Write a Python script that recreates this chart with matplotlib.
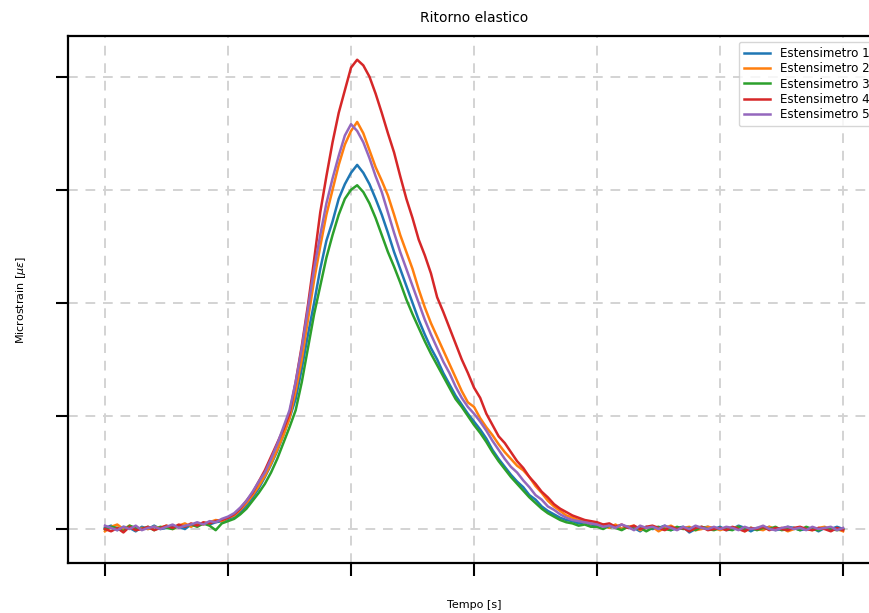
import matplotlib
matplotlib.use("Agg")
import matplotlib.pyplot as plt
import numpy as np

# time axis, 0 - 6 s, sampled every 0.05 s
tempo = np.linspace(0, 6, 121)

est_1 = [
    0.01, 0.03, -0.01, 0.02, 0.01, -0.02, 0.02, 0.00, 0.03, 0.00, 0.01, 0.03, 0.02, 0.00, 0.04, 0.03, 0.05, 0.04, 0.06, 0.07,
    0.09, 0.11, 0.15, 0.21, 0.28, 0.36, 0.46, 0.57, 0.69, 0.83, 0.98, 1.15, 1.42, 1.72, 2.00, 2.30, 2.55, 2.72, 2.92, 3.05,
    3.15, 3.22, 3.15, 3.05, 2.92, 2.78, 2.62, 2.45, 2.30, 2.15, 2.00, 1.85, 1.72, 1.60, 1.50, 1.38, 1.28, 1.18, 1.10, 1.02,
    0.95, 0.88, 0.80, 0.70, 0.62, 0.55, 0.48, 0.42, 0.37, 0.30, 0.26, 0.20, 0.16, 0.13, 0.10, 0.08, 0.07, 0.05, 0.06, 0.04,
    0.03, 0.04, 0.01, 0.03, 0.00, 0.02, 0.01, -0.02, 0.02, 0.00, 0.01, 0.03, -0.01, 0.01, 0.02, -0.03, 0.00, 0.01, 0.02, 0.00,
    0.02, -0.01, 0.00, 0.03, 0.01, -0.02, 0.01, 0.00, 0.02, -0.01, 0.00, 0.02, 0.01, -0.01, 0.00, 0.01, -0.02, 0.01, 0.00, 0.02, 0.00,
]
est_2 = [
    -0.02, 0.02, 0.04, 0.00, 0.03, -0.01, 0.01, 0.00, 0.02, 0.01, 0.03, 0.00, 0.03, 0.05, 0.02, 0.05, 0.04, 0.06, 0.08, 0.07,
    0.10, 0.12, 0.17, 0.23, 0.30, 0.38, 0.47, 0.58, 0.70, 0.83, 0.98, 1.22, 1.50, 1.85, 2.20, 2.50, 2.78, 3.00, 3.22, 3.40,
    3.52, 3.60, 3.50, 3.35, 3.20, 3.08, 2.95, 2.78, 2.60, 2.45, 2.30, 2.12, 1.96, 1.82, 1.70, 1.58, 1.46, 1.34, 1.22, 1.12,
    1.08, 0.98, 0.90, 0.83, 0.75, 0.68, 0.62, 0.56, 0.52, 0.46, 0.38, 0.32, 0.25, 0.20, 0.16, 0.12, 0.10, 0.08, 0.07, 0.05,
    0.05, 0.03, 0.01, 0.04, 0.00, 0.02, 0.03, -0.01, 0.01, 0.02, -0.02, 0.01, 0.03, 0.00, 0.01, 0.02, -0.01, 0.00, 0.02, 0.01,
    -0.01, 0.01, 0.00, 0.02, -0.02, 0.01, 0.00, -0.01, 0.02, 0.00, 0.01, -0.02, 0.00, 0.01, 0.00, -0.01, 0.01, 0.02, -0.01, 0.00, -0.02,
]
est_3 = [
    0.00, 0.02, 0.01, -0.02, 0.03, 0.01, 0.00, 0.02, -0.01, 0.02, 0.01, 0.00, 0.03, 0.02, 0.04, 0.02, 0.05, 0.03, -0.01, 0.05,
    0.07, 0.09, 0.13, 0.18, 0.25, 0.32, 0.40, 0.50, 0.62, 0.76, 0.90, 1.05, 1.30, 1.60, 1.90, 2.15, 2.40, 2.60, 2.78, 2.92,
    3.00, 3.04, 2.98, 2.88, 2.75, 2.60, 2.45, 2.32, 2.18, 2.03, 1.90, 1.78, 1.66, 1.55, 1.45, 1.35, 1.25, 1.15, 1.08, 1.00,
    0.92, 0.85, 0.77, 0.68, 0.60, 0.53, 0.46, 0.40, 0.34, 0.28, 0.23, 0.18, 0.14, 0.11, 0.08, 0.06, 0.05, 0.03, 0.04, 0.02,
    0.02, 0.00, 0.03, 0.01, -0.01, 0.02, 0.00, 0.01, -0.02, 0.01, 0.02, 0.00, -0.01, 0.02, 0.00, 0.01, -0.01, 0.02, 0.00, -0.01,
    0.01, 0.00, -0.01, 0.02, 0.00, 0.01, -0.01, 0.01, 0.00, 0.02, -0.01, 0.00, 0.01, -0.01, 0.02, 0.00, -0.01, 0.01, 0.00, -0.01, 0.00,
]
est_4 = [
    0.00, -0.02, 0.01, -0.03, 0.02, -0.01, 0.00, 0.02, -0.01, 0.01, 0.03, 0.01, 0.04, 0.02, 0.05, 0.03, 0.06, 0.05, 0.07, 0.08,
    0.10, 0.13, 0.18, 0.25, 0.32, 0.42, 0.52, 0.64, 0.76, 0.88, 1.02, 1.30, 1.62, 1.98, 2.38, 2.80, 3.12, 3.42, 3.68, 3.88,
    4.08, 4.15, 4.10, 4.00, 3.85, 3.68, 3.50, 3.33, 3.12, 2.92, 2.75, 2.56, 2.42, 2.26, 2.05, 1.92, 1.78, 1.64, 1.50, 1.38,
    1.25, 1.16, 1.02, 0.92, 0.82, 0.76, 0.68, 0.60, 0.54, 0.46, 0.40, 0.33, 0.28, 0.22, 0.18, 0.15, 0.12, 0.10, 0.08, 0.07,
    0.06, 0.04, 0.05, 0.02, 0.04, 0.01, 0.03, 0.00, 0.02, 0.03, 0.01, -0.01, 0.02, 0.00, 0.01, -0.02, 0.01, 0.02, -0.01, 0.00,
    0.01, -0.01, 0.02, 0.00, -0.02, 0.01, 0.00, 0.02, -0.01, 0.01, 0.00, -0.01, 0.01, 0.02, 0.00, -0.01, 0.01, 0.00, -0.02, 0.01, -0.01,
]
est_5 = [
    0.03, 0.01, -0.01, 0.02, 0.00, 0.03, -0.01, 0.01, 0.02, 0.00, 0.02, 0.04, 0.01, 0.03, 0.04, 0.06, 0.04, 0.07, 0.06, 0.09,
    0.11, 0.14, 0.19, 0.25, 0.33, 0.42, 0.50, 0.62, 0.75, 0.90, 1.05, 1.30, 1.60, 1.95, 2.30, 2.60, 2.88, 3.10, 3.30, 3.48,
    3.58, 3.52, 3.42, 3.28, 3.12, 2.98, 2.80, 2.62, 2.45, 2.30, 2.15, 2.00, 1.85, 1.72, 1.60, 1.48, 1.38, 1.26, 1.16, 1.08,
    1.02, 0.95, 0.87, 0.78, 0.70, 0.62, 0.55, 0.50, 0.43, 0.37, 0.30, 0.26, 0.20, 0.17, 0.13, 0.10, 0.08, 0.07, 0.06, 0.05,
    0.04, 0.02, 0.03, 0.01, 0.04, 0.02, -0.01, 0.03, 0.01, 0.02, 0.00, 0.03, 0.01, -0.01, 0.02, 0.00, 0.03, 0.01, 0.00, 0.02,
    0.00, 0.02, 0.01, -0.01, 0.02, 0.00, 0.01, 0.03, 0.00, -0.01, 0.01, 0.02, 0.00, 0.01, -0.01, 0.02, 0.00, 0.01, 0.02, -0.01, 0.01,
]

serie = [est_1, est_2, est_3, est_4, est_5]
etichette = ["Estensimetro 1", "Estensimetro 2", "Estensimetro 3", "Estensimetro 4", "Estensimetro 5"]
colori = ["#1f77b4", "#ff7f0e", "#2ca02c", "#d62728", "#9467bd"]

fig = plt.figure(figsize=(8.69, 6.13), dpi=100)
ax = fig.add_axes([0.0783, 0.0816, 0.9344, 0.8597])

for valori, label, colore in zip(serie, etichette, colori):
    ax.plot(tempo, valori, label=label, color=colore, linewidth=1.8)

ax.set_xticks(np.arange(0, 7, 1))
ax.set_yticks(np.arange(0, 5, 1))
ax.set_ylim(-0.30, 4.36)
ax.tick_params(labelbottom=False, labelleft=False, length=9, width=1.5, direction="out")
ax.grid(True, linestyle=(0, (5, 4)), color="#d3d3d3", linewidth=1.4)
for lato in ["left", "bottom", "top", "right"]:
    ax.spines[lato].set_linewidth(1.6)

ax.set_title("Ritorno elastico", fontsize=10, pad=10)
ax.set_xlabel("Tempo [s]", fontsize=8, labelpad=18)
ax.set_ylabel(r"Microstrain [$\mu\varepsilon$]", fontsize=8, labelpad=20)
ax.legend(loc="upper right", fontsize=8.6, labelspacing=0.2, handlelength=2.2)

fig.savefig("out.png", dpi=100)
